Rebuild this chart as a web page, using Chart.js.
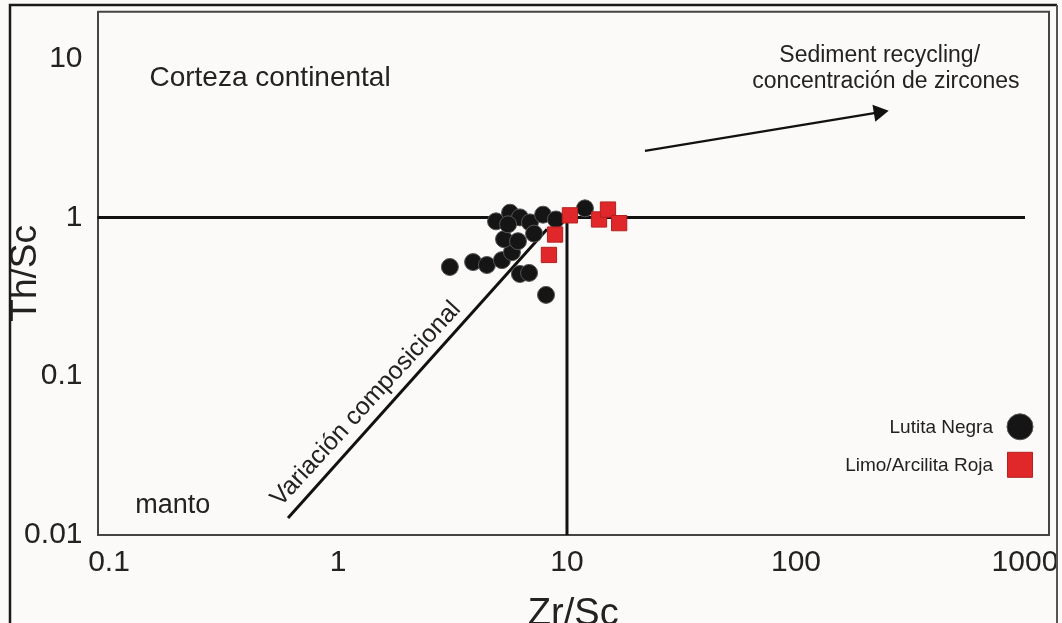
<!DOCTYPE html>
<html>
<head>
<meta charset="utf-8">
<script src="https://cdn.jsdelivr.net/npm/chart.js@4.4.1/dist/chart.umd.min.js"></script>
<style>
  html, body { margin: 0; padding: 0; background: #fbfaf8; }
  #wrap { width: 1062px; height: 623px; position: relative; }
</style>
</head>
<body>
<div id="wrap"><canvas id="c" width="1062" height="623"></canvas></div>
<script>
// Axis ticks
const xTickValues = [0.1, 1, 10, 100, 1000];
const xTickLabels = ['0.1', '1', '10', '100', '1000'];
const yTickValues = [0.01, 0.1, 1, 10];
const yTickLabels = ['0.01', '0.1', '1', '10'];

// Samples: Zr/Sc (x) vs Th/Sc (y)
const lutitaNegra = [
  {x: 3.08, y: 0.487}, {x: 3.89, y: 0.523}, {x: 4.47, y: 0.501}, {x: 5.20, y: 0.538},
  {x: 5.75, y: 0.604}, {x: 5.31, y: 0.729}, {x: 6.11, y: 0.708}, {x: 4.90, y: 0.944},
  {x: 5.64, y: 1.07},  {x: 6.23, y: 1.00},  {x: 5.53, y: 0.904}, {x: 6.89, y: 0.930},
  {x: 7.86, y: 1.04},  {x: 8.95, y: 0.970}, {x: 7.18, y: 0.790}, {x: 6.23, y: 0.440},
  {x: 6.83, y: 0.447}, {x: 8.10, y: 0.325}, {x: 11.98, y: 1.14}
];
const limoArcilitaRoja = [
  {x: 10.3, y: 1.03}, {x: 8.87, y: 0.78}, {x: 8.34, y: 0.58},
  {x: 13.8, y: 0.97}, {x: 15.1, y: 1.12}, {x: 16.9, y: 0.92}
];

// Field boundaries and trends
const crustBoundaryH = [{x: 0.08, y: 1}, {x: 1000, y: 1}];
const crustBoundaryV = [{x: 10, y: 0.01}, {x: 10, y: 1}];
const compositionalTrend = [{x: 0.605, y: 0.0128}, {x: 8.18, y: 0.841}];
const recyclingArrow = [{x: 21.9, y: 2.62}, {x: 230, y: 4.58}];

const FONT = '"Liberation Sans", Arial, Helvetica, sans-serif';
const INK = '#222';

// Text placed in data coordinates
const notes = [
  {text: 'Corteza continental', x: 0.505, y: 7.5, size: 28},
  {text: 'manto', x: 0.19, y: 0.0154, size: 27},
  {text: 'Sediment recycling/', x: 232, y: 10.44, size: 23},
  {text: 'concentración de zircones', x: 247, y: 7.18, size: 23},
  {text: 'Variación composicional', x: 1.325, y: 0.0668, size: 25, angle: -47.5}
];

const frame = {
  id: 'frame',
  beforeDraw(chart) {
    const ctx = chart.ctx;
    ctx.save();
    ctx.fillStyle = '#fbfaf8';
    ctx.fillRect(0, 0, chart.width, chart.height);
    ctx.restore();
  },
  afterDraw(chart) {
    const ctx = chart.ctx;
    const a = chart.chartArea;
    ctx.save();
    // plot box top and right edges
    ctx.strokeStyle = '#444';
    ctx.lineWidth = 2;
    ctx.beginPath();
    ctx.moveTo(a.left, a.top);
    ctx.lineTo(a.right, a.top);
    ctx.lineTo(a.right, a.bottom);
    ctx.stroke();
    // outer figure frame
    ctx.strokeStyle = '#1a1a1a';
    ctx.lineWidth = 2.5;
    ctx.beginPath();
    ctx.moveTo(10, chart.height);
    ctx.lineTo(10, 5);
    ctx.lineTo(1057, 5);
    ctx.stroke();
    ctx.strokeStyle = '#555';
    ctx.lineWidth = 2;
    ctx.beginPath();
    ctx.moveTo(1057, 5);
    ctx.lineTo(1057, chart.height);
    ctx.stroke();
    ctx.restore();
  }
};

const annotations = {
  id: 'annotations',
  afterDatasetsDraw(chart) {
    const ctx = chart.ctx;
    const xs = chart.scales.x, ys = chart.scales.y;
    ctx.save();
    ctx.fillStyle = INK;
    ctx.textAlign = 'center';
    ctx.textBaseline = 'middle';
    notes.forEach(n => {
      const px = xs.getPixelForValue(n.x), py = ys.getPixelForValue(n.y);
      ctx.save();
      ctx.translate(px, py);
      if (n.angle) ctx.rotate(n.angle * Math.PI / 180);
      ctx.font = n.size + 'px ' + FONT;
      ctx.fillText(n.text, 0, 0);
      ctx.restore();
    });

    // legend, bottom right inside the plot
    const a = chart.chartArea;
    const mx = a.right - 29;
    const rows = [
      {label: 'Lutita Negra', ds: chart.data.datasets[0], y: a.top + 415, shape: 'circle'},
      {label: 'Limo/Arcilita Roja', ds: chart.data.datasets[1], y: a.top + 453, shape: 'rect'}
    ];
    ctx.font = '19px ' + FONT;
    ctx.textAlign = 'right';
    rows.forEach(r => {
      ctx.fillStyle = INK;
      ctx.fillText(r.label, mx - 27, r.y + 1);
      ctx.fillStyle = r.ds.backgroundColor;
      ctx.strokeStyle = r.ds.borderColor;
      ctx.lineWidth = 1;
      ctx.beginPath();
      if (r.shape === 'circle') ctx.arc(mx, r.y, 13, 0, Math.PI * 2);
      else ctx.rect(mx - 12.5, r.y - 12.5, 25, 25);
      ctx.fill();
      ctx.stroke();
    });
    ctx.restore();
  }
};

const lineStyle = (data, width, order) => ({
  data, showLine: true, pointRadius: 0, borderColor: '#111', borderWidth: width,
  backgroundColor: '#111', order, fill: false
});

const arrowDs = lineStyle(recyclingArrow, 2.2, 9);
arrowDs.pointRadius = [0, 10];
arrowDs.pointStyle = 'triangle';
arrowDs.pointRotation = 80.6;
arrowDs.pointBackgroundColor = '#111';
arrowDs.pointBorderWidth = 0;

new Chart(document.getElementById('c'), {
  type: 'scatter',
  data: {
    datasets: [
      {
        label: 'Lutita Negra', data: lutitaNegra, pointStyle: 'circle', pointRadius: 8.5,
        backgroundColor: '#151515', borderColor: '#555', borderWidth: 1, order: 2
      },
      {
        label: 'Limo/Arcilita Roja', data: limoArcilitaRoja, pointStyle: 'rect', pointRadius: 10.8,
        backgroundColor: '#e0282a', borderColor: '#b52020', borderWidth: 1, order: 1
      },
      lineStyle(crustBoundaryH, 3, 6),
      lineStyle(crustBoundaryV, 3, 7),
      lineStyle(compositionalTrend, 3, 8),
      arrowDs
    ]
  },
  options: {
    responsive: false,
    animation: false,
    devicePixelRatio: 1,
    layout: { padding: { left: 4, top: 8, right: 13, bottom: 0 } },
    plugins: { legend: { display: false }, tooltip: { enabled: false } },
    scales: {
      x: {
        type: 'logarithmic',
        min: 0.0891, max: 1273,
        afterFit(s) { s.height = 88; s.paddingLeft = 0; s.paddingRight = 0; },
        afterBuildTicks(s) { s.ticks = xTickValues.map(v => ({value: v})); },
        grid: { display: false, drawTicks: false },
        border: { display: true, color: '#444', width: 2 },
        ticks: {
          autoSkip: false, maxRotation: 0, padding: 10, color: INK,
          font: { family: FONT, size: 30 },
          callback: (v) => { const i = xTickValues.indexOf(v); return i >= 0 ? xTickLabels[i] : ''; }
        },
        title: {
          display: true, text: 'Zr/Sc', color: INK,
          font: { family: FONT, size: 38 }, padding: { top: 0, bottom: -14 }
        }
      },
      y: {
        type: 'logarithmic',
        min: 0.01, max: 19.7,
        afterFit(s) { s.width = 93.5; s.paddingTop = 0; s.paddingBottom = 0; },
        afterBuildTicks(s) { s.ticks = yTickValues.map(v => ({value: v})); },
        grid: { display: false, drawTicks: false },
        border: { display: true, color: '#444', width: 2 },
        ticks: {
          autoSkip: false, padding: 15, color: INK,
          font: { family: FONT, size: 30 },
          callback: (v) => { const i = yTickValues.indexOf(v); return i >= 0 ? yTickLabels[i] : ''; }
        },
        title: {
          display: true, text: 'Th/Sc', color: INK,
          font: { family: FONT, size: 37 }, padding: { top: 0, bottom: 0 }
        }
      }
    }
  },
  plugins: [frame, annotations]
});
</script>
</body>
</html>
